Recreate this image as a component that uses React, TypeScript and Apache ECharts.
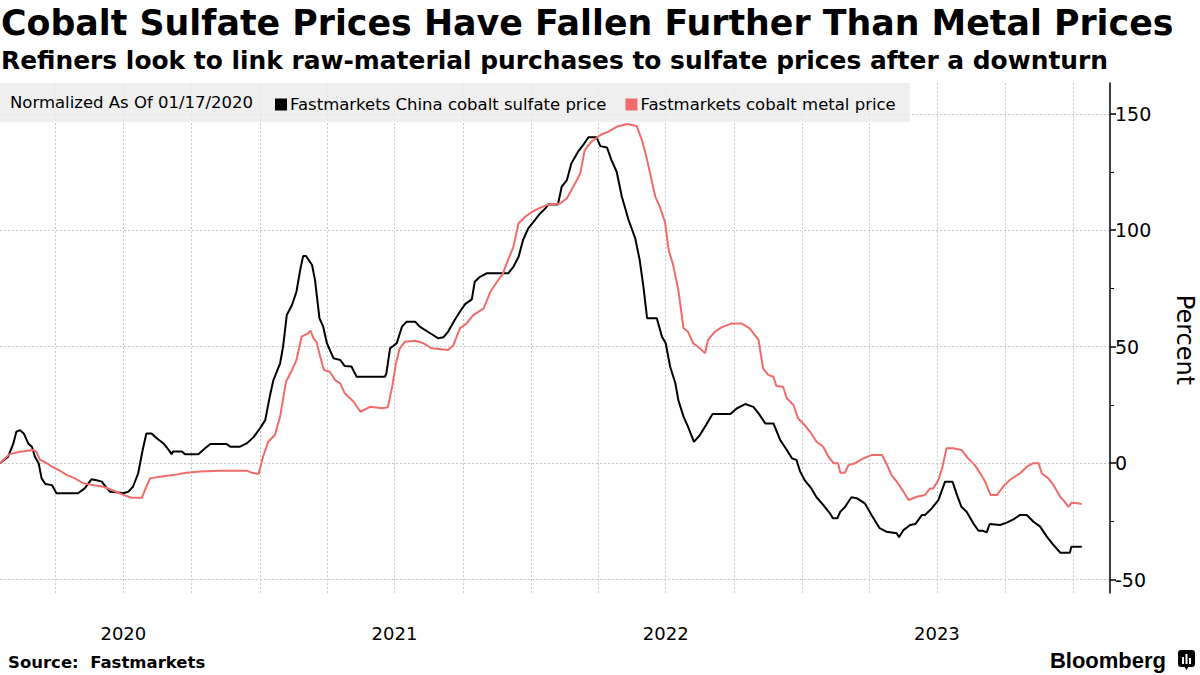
import React, { useEffect, useRef } from 'react';
import * as echarts from 'echarts';

const sulfateDates = [
  '2020-01-17','2020-01-28','2020-02-04','2020-02-08','2020-02-13','2020-02-18','2020-02-24','2020-02-29','2020-03-04','2020-03-09',
  '2020-03-13','2020-03-18','2020-03-27','2020-04-02','2020-05-01','2020-05-10','2020-05-19','2020-05-26','2020-06-02','2020-06-09',
  '2020-06-13','2020-06-22','2020-07-01','2020-07-08','2020-07-14','2020-07-21','2020-07-27','2020-08-01','2020-08-08','2020-08-15',
  '2020-08-24','2020-08-31','2020-09-04','2020-09-06','2020-09-18','2020-09-22','2020-10-10','2020-10-19','2020-10-26','2020-11-17',
  '2020-11-22','2020-12-05','2020-12-14','2020-12-23','2021-01-01','2021-01-08','2021-01-14','2021-01-19','2021-01-28','2021-02-01',
  '2021-02-06','2021-02-13','2021-02-19','2021-02-24','2021-02-28','2021-03-04','2021-03-12','2021-03-16','2021-03-22','2021-03-27',
  '2021-04-01','2021-04-10','2021-04-19','2021-04-25','2021-05-04','2021-05-11','2021-06-18','2021-06-20','2021-06-25','2021-07-04',
  '2021-07-11','2021-07-17','2021-07-29','2021-08-04','2021-08-18','2021-08-29','2021-09-05','2021-09-11','2021-09-20','2021-09-27',
  '2021-10-04','2021-10-13','2021-10-17','2021-10-24','2021-11-02','2021-12-01','2021-12-08','2021-12-15','2021-12-21','2021-12-28',
  '2022-01-04','2022-01-13','2022-01-20','2022-01-24','2022-02-06','2022-02-11','2022-02-18','2022-02-24','2022-03-05','2022-03-12',
  '2022-03-19','2022-03-30','2022-04-04','2022-04-13','2022-04-19','2022-04-26','2022-05-03','2022-05-12','2022-05-21','2022-05-27',
  '2022-06-01','2022-06-06','2022-06-19','2022-06-26','2022-07-01','2022-07-07','2022-07-14','2022-07-18','2022-07-25','2022-07-31',
  '2022-08-08','2022-08-16','2022-08-23','2022-09-02','2022-09-26','2022-10-05','2022-10-16','2022-10-27','2022-11-03','2022-11-12',
  '2022-11-23','2022-12-02','2022-12-11','2022-12-18','2022-12-24','2022-12-29','2023-01-04','2023-01-13','2023-01-20','2023-01-29',
  '2023-02-07','2023-02-11','2023-02-17','2023-02-21','2023-02-27','2023-03-08','2023-03-15','2023-03-26','2023-04-04','2023-04-15',
  '2023-04-24','2023-05-08','2023-05-11','2023-05-17','2023-05-26','2023-06-02','2023-06-11','2023-06-15','2023-06-24','2023-07-03',
  '2023-07-12','2023-07-22','2023-07-28','2023-08-03','2023-08-10','2023-08-19','2023-08-26','2023-09-01','2023-09-06','2023-09-10',
  '2023-09-24','2023-10-03','2023-10-12','2023-10-21','2023-10-30','2023-11-08','2023-11-17','2023-11-26','2023-12-05','2023-12-14',
  '2023-12-27','2023-12-29','2024-01-12'
];
const sulfateValues = [
  0, 2.8, 8.5, 13.5, 14.2, 12.8, 8.5, 7.1, 2.8, 0,
  -6.5, -8.9, -9.4, -12.9, -12.9, -10.8, -6.9, -7.3, -7.9, -10.8,
  -12.2, -12.5, -12.9, -12.2, -10.1, -4.3, 5.7, 12.8, 12.8, 10.7,
  8.5, 5.7, 3.9, 5.0, 5.0, 3.9, 3.9, 6.4, 8.2, 8.2,
  7.1, 7.1, 8.5, 11.1, 15.0, 18.5, 28.5, 35.7, 42.9, 50,
  63.6, 67.9, 73.6, 82.9, 88.9, 88.9, 85.1, 78.6, 62.2, 58.6,
  51.5, 45.0, 44.3, 41.7, 41.5, 37.1, 37.1, 38.5, 49.3, 51.5,
  58.6, 60.7, 60.7, 58.6, 55.8, 53.6, 54.1, 56.4, 61.5, 65.0,
  68.3, 70.3, 77.9, 80.0, 81.5, 81.5, 84.3, 88.6, 95.8, 100.8,
  103.6, 107.2, 109.4, 111.1, 111.1, 118.7, 121.5, 128.7, 133.7, 136.6,
  139.9, 139.9, 136.1, 135.5, 130.1, 125.1, 114.4, 104.4, 96.5, 87.2,
  75.8, 62.2, 62.2, 54.3, 51.5, 41.4, 34.3, 27.1, 20.0, 15.7,
  9.2, 12.1, 15.7, 21.1, 21.1, 23.6, 25.4, 24.2, 21.4, 17.1,
  17.1, 10.0, 5.7, 2.1, 1.4, -3.6, -7.2, -10.8, -14.6, -17.9,
  -21.5, -23.6, -23.6, -20.8, -18.9, -14.6, -15.0, -17.2, -22.2, -27.9,
  -29.4, -30.1, -31.8, -28.7, -26.5, -26.1, -22.2, -22.2, -19.4, -15.8,
  -7.9, -7.9, -13.6, -18.7, -20.8, -25.8, -29.0, -29.0, -29.7, -26.1,
  -26.5, -25.5, -24.1, -22.2, -22.2, -25.1, -27.2, -31.5, -35.1, -38.4,
  -38.4, -35.8, -35.8
];

const metalDates = [
  '2020-01-17','2020-01-24','2020-01-30','2020-02-13','2020-03-02','2020-03-06','2020-03-11','2020-03-20','2020-03-27','2020-04-05',
  '2020-04-16','2020-04-27','2020-05-08','2020-05-22','2020-06-04','2020-06-18','2020-07-01','2020-07-12','2020-07-26','2020-07-30',
  '2020-08-06','2020-08-19','2020-09-06','2020-09-24','2020-10-12','2020-11-08','2020-12-14','2020-12-21','2020-12-30','2021-01-05',
  '2021-01-12','2021-01-21','2021-01-28','2021-02-05','2021-02-13','2021-02-19','2021-02-26','2021-03-07','2021-03-10','2021-03-14',
  '2021-03-18','2021-03-23','2021-03-28','2021-04-05','2021-04-12','2021-04-19','2021-04-25','2021-05-07','2021-05-16','2021-05-29',
  '2021-06-15','2021-06-22','2021-06-28','2021-07-03','2021-07-08','2021-07-15','2021-07-29','2021-08-09','2021-08-20','2021-09-11',
  '2021-09-18','2021-09-27','2021-10-06','2021-10-15','2021-10-29','2021-11-07','2021-11-16','2021-11-24','2021-11-29','2021-12-08',
  '2021-12-15','2021-12-24','2022-01-02','2022-01-11','2022-01-22','2022-02-09','2022-02-18','2022-03-01','2022-03-08','2022-03-14',
  '2022-03-23','2022-04-04','2022-04-15','2022-04-26','2022-05-10','2022-05-23','2022-05-30','2022-06-05','2022-06-10','2022-06-17',
  '2022-06-23','2022-06-30','2022-07-05','2022-07-11','2022-07-18','2022-07-25','2022-07-31','2022-08-07','2022-08-16','2022-08-23',
  '2022-08-27','2022-09-05','2022-09-14','2022-09-28','2022-10-11','2022-10-22','2022-11-03','2022-11-09','2022-11-16','2022-11-23',
  '2022-11-27','2022-12-06','2022-12-11','2022-12-20','2022-12-26','2023-01-04','2023-01-13','2023-01-20','2023-01-29','2023-02-05',
  '2023-02-12','2023-02-18','2023-02-21','2023-02-27','2023-03-04','2023-03-13','2023-03-24','2023-04-04','2023-04-18','2023-04-24',
  '2023-05-01','2023-05-08','2023-05-17','2023-05-24','2023-06-04','2023-06-15','2023-06-22','2023-06-26','2023-07-03','2023-07-08',
  '2023-07-14','2023-07-23','2023-08-03','2023-08-12','2023-08-21','2023-08-30','2023-09-05','2023-09-11','2023-09-20','2023-09-28',
  '2023-10-07','2023-10-21','2023-10-30','2023-11-08','2023-11-15','2023-11-19','2023-11-28','2023-12-05','2023-12-14','2023-12-20',
  '2023-12-25','2023-12-29','2024-01-07','2024-01-12'
];
const metalValues = [
  0, 2.1, 3.9, 4.9, 5.7, 4.9, 1.4, 0, -1.5, -2.9,
  -5.1, -6.5, -8.6, -9.4, -10.1, -11.8, -13.6, -14.8, -14.8, -11.5,
  -6.5, -5.8, -5.1, -4.1, -3.6, -3.2, -3.2, -4.1, -4.6, 2.8,
  9.2, 12.1, 20.0, 35.0, 40.0, 44.3, 54.3, 55.8, 56.9, 53.6,
  52.1, 45.7, 40.0, 39.3, 35.7, 34.3, 30.0, 26.4, 22.1, 24.2,
  23.6, 24.0, 33.0, 43.0, 49.3, 52.1, 52.6, 51.5, 49.3, 48.6,
  50.5, 57.9, 60.0, 63.6, 66.5, 73.6, 77.9, 81.5, 85.8, 92.9,
  103.0, 105.8, 107.9, 109.4, 110.8, 111.5, 113.7, 120.1, 124.4, 134.4,
  138.0, 140.9, 142.3, 144.4, 145.6, 144.7, 138.7, 131.5, 124.4, 114.4,
  110.1, 103.6, 91.5, 85.1, 74.3, 57.9, 56.4, 51.5, 49.3, 47.2,
  52.9, 56.4, 58.3, 60.0, 60.0, 57.9, 52.9, 40.7, 37.9, 37.1,
  33.1, 32.8, 27.9, 25.0, 19.3, 16.4, 12.8, 9.2, 7.1, 2.8,
  0, 0, -4.1, -4.1, -0.8, 0, 2.1, 3.5, 3.5, 0,
  -5.1, -7.9, -12.2, -15.8, -14.4, -13.6, -10.8, -10.8, -7.2, -2.2,
  6.4, 6.4, 5.7, 2.1, -0.8, -5.1, -8.6, -13.6, -13.6, -10.1,
  -7.2, -4.3, -1.5, 0, 0, -4.3, -6.5, -9.4, -14.4, -16.5,
  -18.7, -17.0, -17.2, -17.5
];

const quarterTicks = [
  '2020-04-01','2020-07-01','2020-10-01','2021-01-01','2021-04-01','2021-07-01','2021-10-01','2022-01-01',
  '2022-04-01','2022-07-01','2022-10-01','2023-01-01','2023-04-01','2023-07-01','2023-10-01','2024-01-01'
];
const yearLabelDates = ['2020-07-01','2021-07-01','2022-07-01','2023-07-01'];
const yTickValues = [-50, 0, 50, 100, 150];
const yMinorTickValues = [-25, 25, 75, 125];

const SULFATE_NAME = 'Fastmarkets China cobalt sulfate price';
const METAL_NAME = 'Fastmarkets cobalt metal price';
const RED = '#f26b6b';
const FONT = "'DejaVu Sans', Verdana, sans-serif";
const BRAND_FONT = "'Liberation Sans', Arial, sans-serif";

const ts = (s: string) => {
  const [y, m, d] = s.split('-').map(Number);
  return new Date(y, m - 1, d).getTime();
};

export default function App() {
  const ref = useRef<HTMLDivElement>(null);
  useEffect(() => {
    if (!ref.current) return;
    const chart = echarts.init(ref.current, undefined, { renderer: 'svg' });
    const sulfateData = sulfateDates.map((d, i) => [ts(d), sulfateValues[i]]);
    const metalData = metalDates.map((d, i) => [ts(d), metalValues[i]]);
    const yMin = -55.7;
    const yMax = 163.2;
    chart.setOption({
      animation: false,
      backgroundColor: '#ffffff',
      grid: { left: 0, right: 90, top: 83, bottom: 82, containLabel: false },
      legend: {
        left: 270,
        top: 91,
        itemWidth: 12,
        itemHeight: 12,
        itemGap: 19,
        icon: 'rect',
        z: 10,
        textStyle: { fontSize: 16.5, color: '#000', fontFamily: FONT, padding: [0, 0, 0, -2] },
        data: [SULFATE_NAME, METAL_NAME],
      },
      xAxis: {
        type: 'value',
        min: ts('2020-01-17'),
        max: ts('2024-02-19'),
        axisLine: { show: false },
        axisTick: {
          show: true,
          customValues: quarterTicks.map(ts),
          length: 11,
          lineStyle: { color: '#c4c4c4', type: [2, 2], width: 1 },
        },
        splitLine: { show: true, lineStyle: { color: '#c8c8c8', type: [2, 2], width: 1 } },
        axisLabel: {
          customValues: yearLabelDates.map(ts),
          formatter: (v: number) => String(new Date(v).getFullYear()),
          fontSize: 18,
          color: '#000',
          margin: 31,
          fontFamily: FONT,
        },
      },
      yAxis: [
        {
          type: 'value',
          position: 'right',
          min: yMin,
          max: yMax,
          axisLine: { show: true, lineStyle: { color: '#000', width: 1.5 } },
          axisTick: { show: true, customValues: yTickValues, length: 6, lineStyle: { color: '#000', width: 1.5 } },
          axisLabel: { customValues: yTickValues, fontSize: 19, color: '#000', margin: 5, fontFamily: FONT },
          splitLine: { show: true, lineStyle: { color: '#c8c8c8', type: [2, 2], width: 1 } },
        },
        {
          type: 'value',
          position: 'right',
          min: yMin,
          max: yMax,
          axisLine: { show: false },
          axisTick: { show: true, customValues: yMinorTickValues, length: 4, lineStyle: { color: '#000', width: 1 } },
          axisLabel: { show: false },
          splitLine: { show: false },
        },
      ],
      series: [
        {
          name: SULFATE_NAME,
          type: 'line',
          data: sulfateData,
          symbol: 'none',
          lineStyle: { color: '#000', width: 2 },
          itemStyle: { color: '#000' },
        },
        {
          name: METAL_NAME,
          type: 'line',
          data: metalData,
          symbol: 'none',
          lineStyle: { color: RED, width: 2 },
          itemStyle: { color: RED },
        },
      ],
      graphic: [
        {
          type: 'rect',
          z: 3,
          shape: { x: 0, y: 83, width: 910, height: 39 },
          style: { fill: 'rgba(236,236,236,0.82)' },
        },
        {
          type: 'text',
          z: 5,
          x: 10,
          y: 102,
          style: {
            text: 'Normalized As Of 01/17/2020',
            fontSize: 16.5, fontFamily: FONT, fill: '#000',
            align: 'left', verticalAlign: 'middle', textAlign: 'left', textVerticalAlign: 'middle',
          },
        },
        {
          type: 'text',
          x: 1,
          y: 23,
          style: {
            text: 'Cobalt Sulfate Prices Have Fallen Further Than Metal Prices',
            fontSize: 34.8, fontWeight: 'bold', fontFamily: FONT, fill: '#000',
            align: 'left', verticalAlign: 'middle', textAlign: 'left', textVerticalAlign: 'middle',
          },
        },
        {
          type: 'text',
          x: 1,
          y: 60,
          style: {
            text: 'Refiners look to link raw-material purchases to sulfate prices after a downturn',
            fontSize: 24.9, fontWeight: 'bold', fontFamily: FONT, fill: '#000',
            align: 'left', verticalAlign: 'middle', textAlign: 'left', textVerticalAlign: 'middle',
          },
        },
        {
          type: 'text',
          x: 1185,
          y: 340,
          rotation: -Math.PI / 2,
          style: {
            text: 'Percent',
            fontSize: 24, fontFamily: FONT, fill: '#000',
            align: 'center', verticalAlign: 'middle', textAlign: 'center', textVerticalAlign: 'middle',
          },
        },
        {
          type: 'text',
          x: 8,
          y: 662,
          style: {
            text: 'Source:  Fastmarkets',
            fontSize: 16.5, fontWeight: 'bold', fontFamily: FONT, fill: '#000',
            align: 'left', verticalAlign: 'middle', textAlign: 'left', textVerticalAlign: 'middle',
          },
        },
        {
          type: 'text',
          x: 1166,
          y: 660,
          style: {
            text: 'Bloomberg',
            fontSize: 22, fontWeight: 'bold', fontFamily: BRAND_FONT, fill: '#000',
            align: 'right', verticalAlign: 'middle', textAlign: 'right', textVerticalAlign: 'middle',
          },
        },
        {
          type: 'group',
          x: 1178,
          y: 650,
          children: [
            { type: 'rect', shape: { x: 0, y: 0, width: 17, height: 17, r: 3 }, style: { fill: '#000' } },
            { type: 'polygon', shape: { points: [[6, 16], [11, 16], [8.5, 20]] }, style: { fill: '#000' } },
            { type: 'rect', shape: { x: 4, y: 7, width: 2, height: 7 }, style: { fill: '#fff' } },
            { type: 'rect', shape: { x: 7.5, y: 4, width: 2, height: 10 }, style: { fill: '#fff' } },
            { type: 'rect', shape: { x: 11, y: 8, width: 2, height: 6 }, style: { fill: '#fff' } },
          ],
        },
      ],
    });
    return () => chart.dispose();
  }, []);
  return (
    <div
      ref={ref}
      style={{ position: 'fixed', left: 0, top: 0, width: 1200, height: 675, background: '#fff' }}
    />
  );
}
